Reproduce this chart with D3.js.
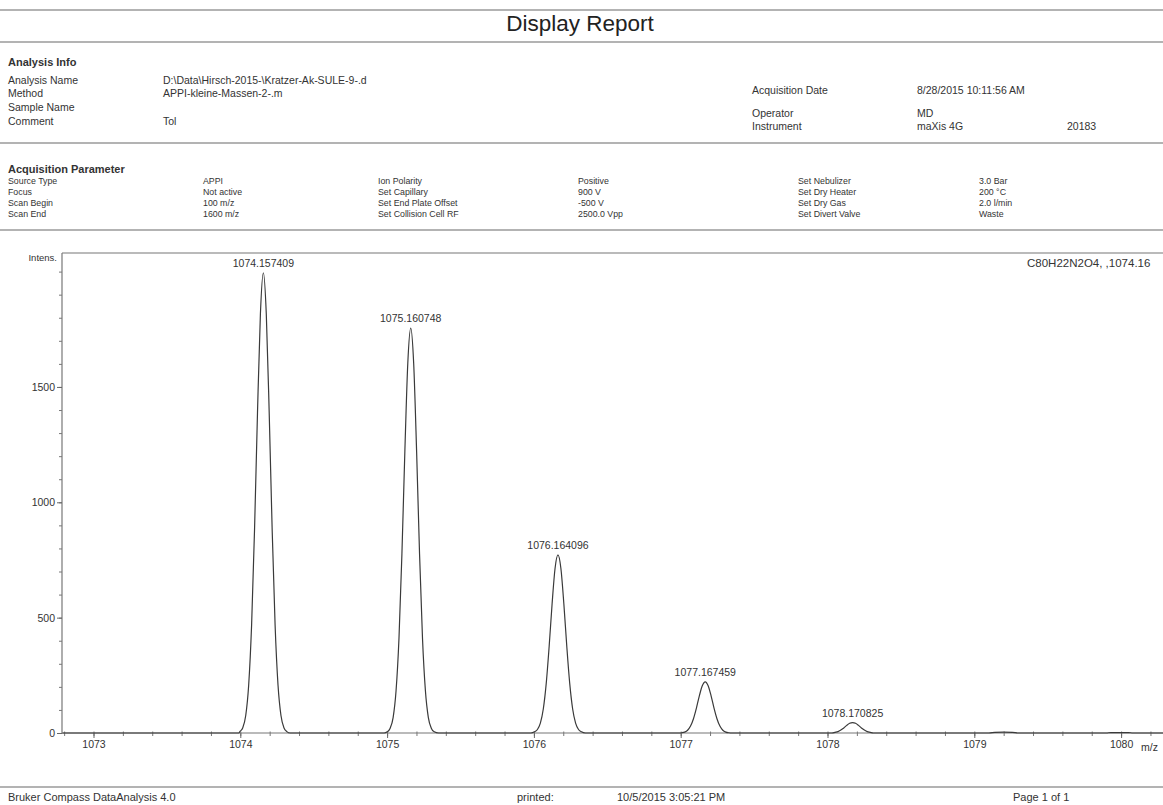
<!DOCTYPE html>
<html>
<head>
<meta charset="utf-8">
<script src="https://cdn.jsdelivr.net/npm/d3@7"></script>
<style>
html,body{margin:0;padding:0;background:#fff;}
svg{display:block;font-family:"Liberation Sans",Arial,sans-serif;}
</style>
</head>
<body>
<svg id="chart" width="1163" height="805"></svg>
<script>
// ---- data ----
const xTickLabels = [1073, 1074, 1075, 1076, 1077, 1078, 1079, 1080];
const yTickLabels = [0, 500, 1000, 1500];
const peakMz = [1074.157409, 1075.160748, 1076.164096, 1077.167459, 1078.170825];
const peakIntensity = [1995, 1755, 772, 222, 45];
const peakLabels = ["1074.157409", "1075.160748", "1076.164096", "1077.167459", "1078.170825"];

// profile points (m/z, intensity)
const baselineStart = [[1072.79, 0], [1073.5, 0], [1073.99, 0]];
const profile1 = [[1073.997,6],[1074.017,23],[1074.037,76],[1074.057,207],[1074.077,468],[1074.097,882],[1074.117,1385],[1074.137,1817],[1074.157,1995],[1074.177,1817],[1074.197,1385],[1074.217,882],[1074.237,468],[1074.257,207],[1074.277,76],[1074.297,23],[1074.317,6],[1074.34,0]];
const gap1 = [[1074.7, 0], [1074.98, 0]];
const profile2 = [[1075.001,5],[1075.021,21],[1075.041,67],[1075.061,183],[1075.081,412],[1075.101,777],[1075.121,1221],[1075.141,1603],[1075.161,1755],[1075.181,1603],[1075.201,1221],[1075.221,777],[1075.241,412],[1075.261,183],[1075.281,67],[1075.301,21],[1075.321,5],[1075.35,0]];
const gap2 = [[1075.7, 0], [1075.98, 0]];
const profile3 = [[1076.004,5],[1076.024,15],[1076.044,43],[1076.064,104],[1076.084,215],[1076.104,376],[1076.124,560],[1076.144,713],[1076.164,772],[1076.184,713],[1076.204,560],[1076.224,376],[1076.244,215],[1076.264,104],[1076.284,43],[1076.304,15],[1076.324,5],[1076.35,0]];
const gap3 = [[1076.7, 0], [1076.99, 0]];
const profile4 = [[1077.007,1],[1077.027,4],[1077.047,12],[1077.067,30],[1077.087,62],[1077.107,108],[1077.127,161],[1077.147,205],[1077.167,222],[1077.187,205],[1077.207,161],[1077.227,108],[1077.247,62],[1077.267,30],[1077.287,12],[1077.307,4],[1077.327,1],[1077.35,0]];
const gap4 = [[1077.7, 0], [1078.0, 0]];
const profile5 = [[1078.031,0],[1078.051,3],[1078.071,6],[1078.091,13],[1078.111,22],[1078.131,33],[1078.151,42],[1078.171,45],[1078.191,42],[1078.211,33],[1078.231,22],[1078.251,13],[1078.271,6],[1078.291,3],[1078.311,0]];
const tail = [[1078.6,0],[1079.1,0],[1079.14,3],[1079.2,4],[1079.26,3],[1079.3,0],[1079.9,0],[1079.93,2],[1080.05,2],[1080.08,0],[1080.6,0]];

// header texts
const analysisLabels = ["Analysis Name", "Method", "Sample Name", "Comment"];
const analysisValues = ["D:\\Data\\Hirsch-2015-\\Kratzer-Ak-SULE-9-.d", "APPI-kleine-Massen-2-.m", "", "Tol"];
const acqParamCols = [
  ["Source Type", "Focus", "Scan Begin", "Scan End"],
  ["APPI", "Not active", "100 m/z", "1600 m/z"],
  ["Ion Polarity", "Set Capillary", "Set End Plate Offset", "Set Collision Cell RF"],
  ["Positive", "900 V", "-500 V", "2500.0 Vpp"],
  ["Set Nebulizer", "Set Dry Heater", "Set Dry Gas", "Set Divert Valve"],
  ["3.0 Bar", "200 \u00B0C", "2.0 l/min", "Waste"]
];

// ---- drawing ----
const svg = d3.select("#chart");
const ink = "#333";
const rule = "#9a9a9a";

function hline(y, x1, x2, w) {
  svg.append("line").attr("x1", x1).attr("x2", x2).attr("y1", y).attr("y2", y)
    .attr("stroke", rule).attr("stroke-width", w || 1.5);
}
function txt(x, y, s, size, opts) {
  opts = opts || {};
  return svg.append("text").attr("x", x).attr("y", y).text(s)
    .attr("font-size", size).attr("fill", opts.fill || ink)
    .attr("font-weight", opts.bold ? "bold" : null)
    .attr("text-anchor", opts.anchor || "start");
}

// header
hline(10, 0, 1163, 1.5);
txt(580, 31, "Display Report", 22.5, {anchor: "middle", fill: "#222"});
hline(42, 0, 1163, 1.5);
txt(8, 66, "Analysis Info", 11, {bold: true});
analysisLabels.forEach((l, i) => {
  const yy = [84, 97, 111, 125][i];
  txt(8, yy, l, 10.5);
  txt(163, yy, analysisValues[i], 10.5);
});
txt(752, 94, "Acquisition Date", 10.5);
txt(917, 94, "8/28/2015 10:11:56 AM", 10.5);
txt(752, 117, "Operator", 10.5);
txt(917, 117, "MD", 10.5);
txt(752, 130, "Instrument", 10.5);
txt(917, 130, "maXis 4G", 10.5);
txt(1067, 130, "20183", 10.5);
hline(143, 0, 1163, 1.5);
txt(8, 173, "Acquisition Parameter", 11, {bold: true});
const colX = [8, 203, 378, 578, 798, 979];
acqParamCols.forEach((col, c) => {
  col.forEach((s, r) => txt(colX[c], 184 + r * 11, s, 8.8));
});
hline(230, 0, 1163, 1.5);

// footer
hline(787, 0, 1163, 1.5);
txt(8, 801, "Bruker Compass DataAnalysis 4.0", 11);
txt(517, 801, "printed:", 11);
txt(617, 801, "10/5/2015 3:05:21 PM", 11);
txt(1013, 801, "Page 1 of 1", 11);

// chart
const frameLeft = 62, frameTop = 253;
const x = d3.scaleLinear().domain([1073, 1080]).range([93.5, 93.5 + 7 * 146.8]);
const y = d3.scaleLinear().domain([0, 2000]).range([733, 733 - 2000 * 0.2307]);

// frame
svg.append("line").attr("x1", frameLeft).attr("x2", 1170).attr("y1", frameTop).attr("y2", frameTop)
  .attr("stroke", "#777").attr("stroke-width", 1.2);
svg.append("line").attr("x1", frameLeft).attr("x2", frameLeft).attr("y1", frameTop).attr("y2", 734)
  .attr("stroke", "#777").attr("stroke-width", 1.2);

// y axis (minor ticks every 100)
const yMinor = d3.range(0, 2001, 100);
svg.append("g").attr("transform", `translate(${frameLeft},0)`)
  .call(d3.axisLeft(y).tickValues(yMinor).tickSize(3).tickFormat(""))
  .call(g => g.select(".domain").remove())
  .call(g => g.selectAll("line").attr("stroke", "#777"));
svg.append("g").attr("transform", `translate(${frameLeft},0)`)
  .call(d3.axisLeft(y).tickValues(yTickLabels).tickSize(5).tickPadding(2).tickFormat(d3.format("d")))
  .call(g => g.select(".domain").remove())
  .call(g => g.selectAll("line").attr("stroke", "#666"))
  .call(g => g.selectAll("text").attr("font-size", 10.5).attr("fill", ink)
    .attr("font-family", "Liberation Sans, Arial, sans-serif"));

// x axis
const xMinor = d3.range(1072.8, 1080.61, 0.2).map(v => +v.toFixed(1));
svg.append("g").attr("transform", `translate(0,${y(0)})`)
  .call(d3.axisBottom(x).tickValues(xMinor).tickSizeInner(3).tickSizeOuter(0).tickFormat(""))
  .call(g => g.select(".domain").remove())
  .call(g => g.selectAll("line").attr("stroke", "#777").attr("y1", -1.5));
svg.append("g").attr("transform", `translate(0,${y(0)})`)
  .call(d3.axisBottom(x).tickValues(xTickLabels).tickSizeInner(5).tickSizeOuter(0).tickPadding(3).tickFormat(d3.format("d")))
  .call(g => g.select(".domain").remove())
  .call(g => g.selectAll("line").attr("stroke", "#666"))
  .call(g => g.selectAll("text").attr("font-size", 10.5).attr("fill", ink)
    .attr("font-family", "Liberation Sans, Arial, sans-serif"));
svg.append("line").attr("x1", frameLeft).attr("x2", 1170).attr("y1", y(0)).attr("y2", y(0))
  .attr("stroke", "#777").attr("stroke-width", 1.2);

// spectrum trace
const trace = [].concat(baselineStart, profile1, gap1, profile2, gap2, profile3, gap3, profile4, gap4, profile5, tail);
const line = d3.line().x(d => x(d[0])).y(d => y(d[1])).curve(d3.curveMonotoneX);
svg.append("path").datum(trace).attr("d", line)
  .attr("fill", "none").attr("stroke", "#3a3a3a").attr("stroke-width", 1.2);

// peak labels
svg.append("g").selectAll("text").data(peakMz).join("text")
  .attr("x", d => x(d)).attr("y", (d, i) => y(peakIntensity[i]) - 6)
  .attr("text-anchor", "middle").attr("font-size", 10.5).attr("fill", ink)
  .text((d, i) => peakLabels[i]);

// axis titles & annotation
txt(57, 261, "Intens.", 9.5, {anchor: "end"});
txt(1141, 751, "m/z", 10.5);
txt(1027, 267, "C80H22N2O4, ,1074.16", 11.5);
</script>
</body>
</html>
